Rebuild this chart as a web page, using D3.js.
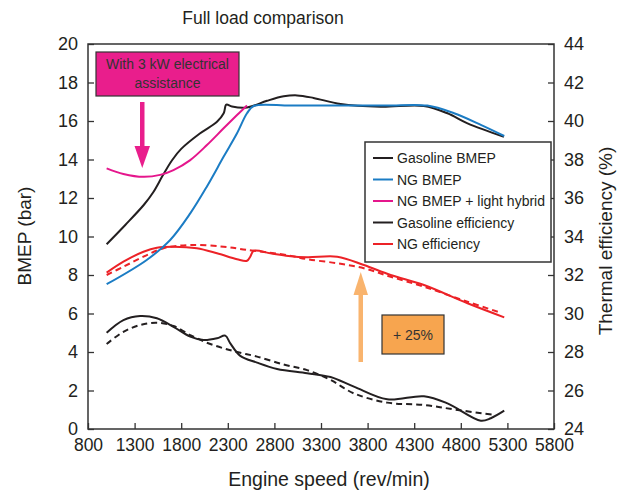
<!DOCTYPE html>
<html><head><meta charset="utf-8">
<script src="https://cdn.jsdelivr.net/npm/d3@7"></script>
<style>body{margin:0;background:#fff}svg{display:block;font-family:"Liberation Sans",Arial,sans-serif}</style>
</head><body><svg id="c" width="639" height="492"></svg>
<script>
const xTicks = [800,1300,1800,2300,2800,3300,3800,4300,4800,5300,5800];
const leftTicks = [0,2,4,6,8,10,12,14,16,18,20];
const rightTicks = [24,26,28,30,32,34,36,38,40,42,44];

const gasBmepRpm = [1000,1200,1400,1500,1600,1700,1800,2000,2184,2256,2284,2345,2506,2721,2900,3044,3220,3510,3940,4402,4657,4872,5263];
const gasBmep    = [9.6,10.6,11.65,12.3,13.15,13.95,14.55,15.35,15.96,16.4,16.85,16.75,16.7,17.05,17.28,17.33,17.2,16.88,16.74,16.78,16.4,15.88,15.18];

const ngBmepRpm = [1000,1430,1682,1897,2076,2256,2399,2506,2578,2972,3500,4000,4441,4728,5015,5266];
const ngBmep    = [7.52,8.78,9.82,11.2,12.6,14.15,15.36,16.4,16.78,16.8,16.8,16.8,16.8,16.4,15.8,15.22];

const hybRpm = [1000,1180,1395,1574,1717,1897,2076,2255,2399,2506];
const hybBmep = [13.54,13.25,13.1,13.2,13.45,13.97,14.75,15.62,16.31,16.81];

const gasEffRpm = [1000,1180,1359,1539,1717,1897,2040,2184,2273,2327,2434,2614,2829,3151,3402,3653,4011,4405,4657,5015,5122,5266];
const gasEff    = [29.0,29.66,29.87,29.75,29.31,28.8,28.62,28.71,28.85,28.45,27.8,27.45,27.12,26.9,26.7,26.2,25.54,25.7,25.33,24.43,24.56,24.95];

const gasEffDRpm = [1000,1180,1359,1539,1717,1897,2076,2255,2434,2614,2900,3151,3402,3653,4011,4405,4764,5159];
const gasEffD    = [28.42,29.05,29.4,29.52,29.35,28.88,28.48,28.19,27.96,27.76,27.35,27.06,26.55,25.85,25.37,25.25,24.99,24.73];

const ngEffRpm = [1000,1180,1395,1539,1717,1968,2184,2399,2506,2541,2578,2757,2950,3151,3474,3760,4047,4405,4872,5266];
const ngEff    = [32.12,32.69,33.21,33.42,33.47,33.39,33.13,32.82,32.74,32.95,33.26,33.13,32.99,32.92,32.95,32.52,32.0,31.48,30.53,29.8];

const ngEffDRpm = [1000,1180,1395,1610,1897,2255,2506,2950,3151,3474,3760,4047,4405,4872,5230];
const ngEffD    = [32.0,32.43,32.95,33.39,33.56,33.47,33.3,33.02,32.82,32.61,32.35,31.91,31.39,30.61,30.04];

const legendLabels = ["Gasoline BMEP","NG BMEP","NG BMEP + light hybrid","Gasoline efficiency","NG efficiency"];
const legendColors = ["#231f20","#1b7cc4","#e5168c","#231f20","#ec2227"];

const svg = d3.select("#c");
const L=88, R=554, T=44, B=429;
const x = d3.scaleLinear().domain([800,5800]).range([L,R]);
const yL = d3.scaleLinear().domain([0,20]).range([B,T]);
const yR = d3.scaleLinear().domain([24,44]).range([B,T]);
const font = "#231f20";

// title
svg.append("text").attr("x",263).attr("y",24).attr("text-anchor","middle").attr("font-size",17.5).attr("fill",font).text("Full load comparison");

// axes
const gx = svg.append("g").attr("transform",`translate(0,${B})`)
  .call(d3.axisBottom(x).tickValues(xTicks).tickSize(-6).tickPadding(10).tickFormat(d3.format("d")));
const gl = svg.append("g").attr("transform",`translate(${L},0)`)
  .call(d3.axisLeft(yL).tickValues(leftTicks).tickSize(-6).tickPadding(10).tickFormat(d3.format("d")));
const gr = svg.append("g").attr("transform",`translate(${R},0)`)
  .call(d3.axisRight(yR).tickValues(rightTicks).tickSize(-6).tickPadding(10).tickFormat(d3.format("d")));
[gx,gl,gr].forEach(g=>{
  g.select(".domain").remove();
  g.selectAll(".tick line").attr("stroke","#333").attr("stroke-width",1.3);
  g.selectAll("text").attr("font-size",18).attr("fill",font).attr("font-family","Liberation Sans, Arial, sans-serif");
});
gx.selectAll("text").attr("font-size",17.5);
// frame
svg.append("rect").attr("x",L).attr("y",T).attr("width",R-L).attr("height",B-T)
  .attr("fill","none").attr("stroke","#333").attr("stroke-width",1.5);

// axis labels
svg.append("text").attr("x",329).attr("y",486).attr("text-anchor","middle").attr("font-size",19.5).attr("fill",font).text("Engine speed (rev/min)");
svg.append("text").attr("transform","translate(31,236) rotate(-90)").attr("text-anchor","middle").attr("font-size",19).attr("fill",font).text("BMEP (bar)");
svg.append("text").attr("transform","translate(612,241) rotate(-90)").attr("text-anchor","middle").attr("font-size",19).attr("fill",font).text("Thermal efficiency (%)");

function draw(xs, ys, yScale, color, dash){
  const pts = xs.map((v,i)=>[v,ys[i]]);
  const line = d3.line().x(d=>x(d[0])).y(d=>yScale(d[1])).curve(d3.curveCatmullRom.alpha(0.5));
  svg.append("path").attr("d",line(pts)).attr("fill","none").attr("stroke",color)
    .attr("stroke-width",2).attr("stroke-dasharray",dash||null).attr("stroke-linejoin","round");
}
draw(gasEffDRpm, gasEffD, yR, "#231f20", "6,4");
draw(ngEffDRpm, ngEffD, yR, "#ec2227", "6,4");
draw(gasEffRpm, gasEff, yR, "#231f20");
draw(ngEffRpm, ngEff, yR, "#ec2227");
draw(gasBmepRpm, gasBmep, yL, "#231f20");
draw(hybRpm, hybBmep, yL, "#e5168c");
draw(ngBmepRpm, ngBmep, yL, "#1b7cc4");

// legend
const lg = svg.append("g");
lg.append("rect").attr("x",365).attr("y",142).attr("width",186).attr("height",120)
  .attr("fill","#fff").attr("stroke","#333").attr("stroke-width",1.5);
legendLabels.forEach((t,i)=>{
  const yy = 158 + i*21.5;
  lg.append("line").attr("x1",373).attr("x2",393).attr("y1",yy).attr("y2",yy).attr("stroke",legendColors[i]).attr("stroke-width",2);
  lg.append("text").attr("x",397).attr("y",yy+5).attr("font-size",14).attr("fill",font).text(t);
});

// pink annotation
svg.append("rect").attr("x",96).attr("y",52).attr("width",143).attr("height",44).attr("fill","#e91e8c").attr("stroke","#333").attr("stroke-width",1.2);
svg.append("text").attr("x",167.5).attr("y",69).attr("text-anchor","middle").attr("font-size",14).attr("fill","#333").text("With 3 kW electrical");
svg.append("text").attr("x",167.5).attr("y",88).attr("text-anchor","middle").attr("font-size",14).attr("fill","#333").text("assistance");
svg.append("rect").attr("x",140).attr("y",102).attr("width",4.5).attr("height",46).attr("fill","#e91e8c");
svg.append("path").attr("d","M134.5,146 L150,146 L142.25,168 Z").attr("fill","#e91e8c");

// orange annotation
svg.append("rect").attr("x",382).attr("y",315).attr("width",62).attr("height",39).attr("fill","#f7a54f").attr("stroke","#333").attr("stroke-width",1.2);
svg.append("text").attr("x",413).attr("y",340).attr("text-anchor","middle").attr("font-size",14).attr("fill","#333").text("+ 25%");
svg.append("rect").attr("x",358.5).attr("y",293).attr("width",4.5).attr("height",69).attr("fill","#f9b46e");
svg.append("path").attr("d","M353.5,295 L368,295 L360.75,272 Z").attr("fill","#f9b46e");
</script></body></html>
